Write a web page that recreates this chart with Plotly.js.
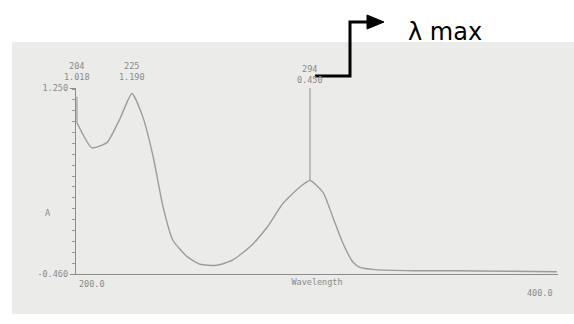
<!DOCTYPE html>
<html>
<head>
<meta charset="utf-8">
<script src="https://cdn.plot.ly/plotly-3.0.1.min.js"></script>
<style>html,body{margin:0;padding:0;background:#fff;}#chart{width:574px;height:324px;}</style>
</head>
<body>
<div id="chart"></div>
<script>
// Spectrum (wavelength in nm, absorbance A)
var wavelength = [200.4, 206.6, 212.9, 218.3, 223.2, 227.8, 232.0, 236.1, 240.2, 246.1, 251.5, 258.5, 265.1, 272.2, 279.3, 285.9, 292.9, 297.1, 302.5, 306.6, 310.8, 314.9, 317.8, 324.0, 340.0, 355.2, 380.0, 399.5];
var absorbance = [0.93, 0.70, 0.75, 0.97, 1.20, 0.98, 0.62, 0.16, -0.15, -0.30, -0.37, -0.38, -0.33, -0.21, -0.03, 0.19, 0.34, 0.40, 0.29, 0.06, -0.18, -0.35, -0.40, -0.42, -0.43, -0.43, -0.435, -0.44];

// Peak marks printed by the instrument
var peakPos = [200.4, 223.2, 297.1];
var peakCurveA = [0.93, 1.20, 0.40];
var peakLabelWl = ["204", "225", "294"];
var peakLabelA = ["1.018", "1.190", "0.450"];
var peakSpikeTop = [1.17, 1.20, 1.25];

// Axis range labels
var xRange = [200, 400];
var xRangeText = ["200.0", "400.0"];
var yRange = [-0.46, 1.25];
var yRangeText = ["-0.460", "1.250"];

var W = 574, H = 324;
var L = 76, R = 16, T = 88, B = 50;
var pw = W - L - R, ph = H - T - B;
function px(x) { return (x - L) / pw; }
function py(y) { return (H - B - y) / ph; }

var printFont = {family: "DejaVu Sans Mono", size: 8.5, color: "#8a8a8a"};
var gray = "#9c9c9c";

var traces = [{
  x: wavelength, y: absorbance, type: "scatter", mode: "lines",
  line: {color: gray, width: 1.4, shape: "spline", smoothing: 0.55},
  hoverinfo: "skip", showlegend: false
}];
for (var i = 0; i < peakPos.length; i++) {
  traces.push({
    x: [peakPos[i], peakPos[i]], y: [peakCurveA[i], peakSpikeTop[i]],
    type: "scatter", mode: "lines", line: {color: gray, width: 1.2},
    hoverinfo: "skip", showlegend: false
  });
}

var annotations = [];
var shifts = [4, 4, 1];
for (var j = 0; j < peakPos.length; j++) {
  annotations.push({
    x: peakPos[j], y: yRange[1], xref: "x", yref: "y",
    text: peakLabelWl[j] + "<br>" + peakLabelA[j],
    showarrow: false, yanchor: "bottom", xanchor: "center", yshift: shifts[j],
    font: printFont, align: "center"
  });
}
annotations.push({x: xRange[0], y: yRange[0], xref: "x", yref: "y", text: xRangeText[0],
  showarrow: false, xanchor: "left", yanchor: "top", yshift: -3, xshift: 1, font: printFont});
annotations.push({x: xRange[1], y: yRange[0], xref: "x", yref: "y", text: xRangeText[1],
  showarrow: false, xanchor: "right", yanchor: "top", yshift: -12, xshift: -3, font: printFont});
annotations.push({x: px(47), y: py(213), xref: "paper", yref: "paper", text: "A",
  showarrow: false, xanchor: "center", yanchor: "middle", font: printFont});
annotations.push({x: px(406), y: py(32), xref: "paper", yref: "paper", text: "λ max",
  showarrow: false, xanchor: "left", yanchor: "middle",
  font: {family: "DejaVu Sans", size: 24, color: "#000"}});

var shapes = [
  {type: "rect", xref: "paper", yref: "paper", x0: px(12), x1: px(574), y0: py(42), y1: py(314),
   fillcolor: "#ebebe9", line: {width: 0}, layer: "below"},
  {type: "path", xref: "paper", yref: "paper",
   path: "M " + px(315) + " " + py(76) + " L " + px(350) + " " + py(76) + " L " + px(350) + " " + py(22) + " L " + px(370) + " " + py(22),
   line: {color: "#000", width: 3}},
  {type: "path", xref: "paper", yref: "paper",
   path: "M " + px(367) + " " + py(15) + " L " + px(384) + " " + py(22) + " L " + px(367) + " " + py(29) + " Z",
   fillcolor: "#000", line: {color: "#000", width: 1}}
];

var layout = {
  width: W, height: H,
  margin: {l: L, r: R, t: T, b: B, pad: 0},
  paper_bgcolor: "#ffffff", plot_bgcolor: "rgba(0,0,0,0)",
  showlegend: false,
  xaxis: {
    range: xRange, showgrid: false, zeroline: false, showline: true,
    linecolor: "#8c8c8c", linewidth: 1.2, showticklabels: false, ticks: "",
    title: {text: "Wavelength", font: printFont, standoff: 4}
  },
  yaxis: {
    range: yRange, showgrid: false, zeroline: false, showline: true,
    linecolor: "#8c8c8c", linewidth: 1.2,
    tickmode: "array", tickvals: yRange, ticktext: yRangeText,
    ticks: "outside", ticklen: 5, tickcolor: "#8c8c8c", tickfont: printFont,
    minor: {tickmode: "linear", tick0: -0.46, dtick: 0.1, ticks: "outside", ticklen: 3, tickcolor: "#999"}
  },
  annotations: annotations,
  shapes: shapes
};

Plotly.newPlot("chart", traces, layout, {displayModeBar: false, staticPlot: true});
</script>
</body>
</html>
